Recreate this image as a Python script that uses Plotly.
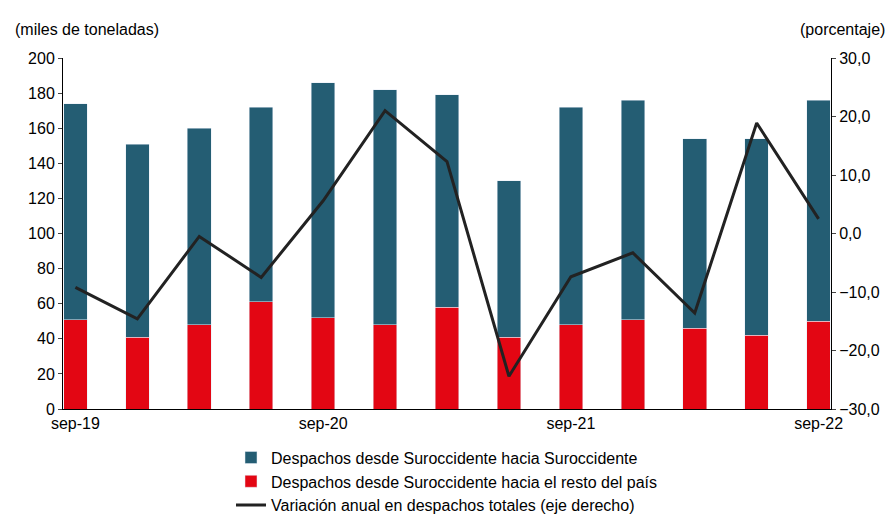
import plotly.graph_objects as go

cats = ["sep-19","dic-19","mar-20","jun-20","sep-20","dic-20","mar-21","jun-21","sep-21","dic-21","mar-22","jun-22","sep-22"]
totals = [174,151,160,172,186,182,179,130,172,176,154,154,176]
resto = [51,41,48,61,52,48,58,41,48,51,46,42,50]
suro = [t-r for t, r in zip(totals, resto)]
var = [-9.2,-14.6,-0.5,-7.5,5.6,21.0,12.3,-24.4,-7.4,-3.3,-13.6,18.9,2.5]
ticklabs = ["sep-19","sep-20","sep-21","sep-22"]

fig = go.Figure()
fig.add_bar(x=cats, y=resto, name="Despachos desde Suroccidente hacia el resto del país", marker_color="#E30613", legendrank=2)
fig.add_bar(x=cats, y=suro, name="Despachos desde Suroccidente hacia Suroccidente", marker_color="#245D73", legendrank=1)
fig.add_scatter(x=cats, y=var, name="Variación anual en despachos totales (eje derecho)", yaxis="y2",
                mode="lines", line=dict(color="#222222", width=3), legendrank=3)
fig.update_layout(
    width=893, height=527, barmode="stack", bargap=0.62,
    plot_bgcolor="white", paper_bgcolor="white",
    font=dict(family="Liberation Sans, Arial", size=16, color="black"),
    margin=dict(l=55, r=70, t=50, b=111),
    xaxis=dict(tickmode="array", tickvals=ticklabs, ticktext=ticklabs, showline=True, linecolor="black",
               ticks="", range=[-0.2, 12.2]),
    yaxis=dict(range=[0,200], dtick=20, showgrid=False, showline=True, linecolor="black", ticks="outside", ticklen=4),
    yaxis2=dict(range=[-30,30], dtick=10, overlaying="y", side="right", showgrid=False, showline=True,
                linecolor="black", ticks="outside", ticklen=4, tickformat=".1f"),
    separators=",.",
    legend=dict(orientation="v", x=0.5, xanchor="center", y=-0.09, yanchor="top", traceorder="normal",
                font=dict(size=16), tracegroupgap=0),
    annotations=[
        dict(text="(miles de toneladas)", x=0, y=1.0, xref="paper", yref="paper", xshift=-50, yshift=18,
             xanchor="left", yanchor="bottom", showarrow=False, font=dict(size=16)),
        dict(text="(porcentaje)", x=1, y=1.0, xref="paper", yref="paper", xshift=56, yshift=18,
             xanchor="right", yanchor="bottom", showarrow=False, font=dict(size=16)),
    ],
)
fig.write_html("out.html")
